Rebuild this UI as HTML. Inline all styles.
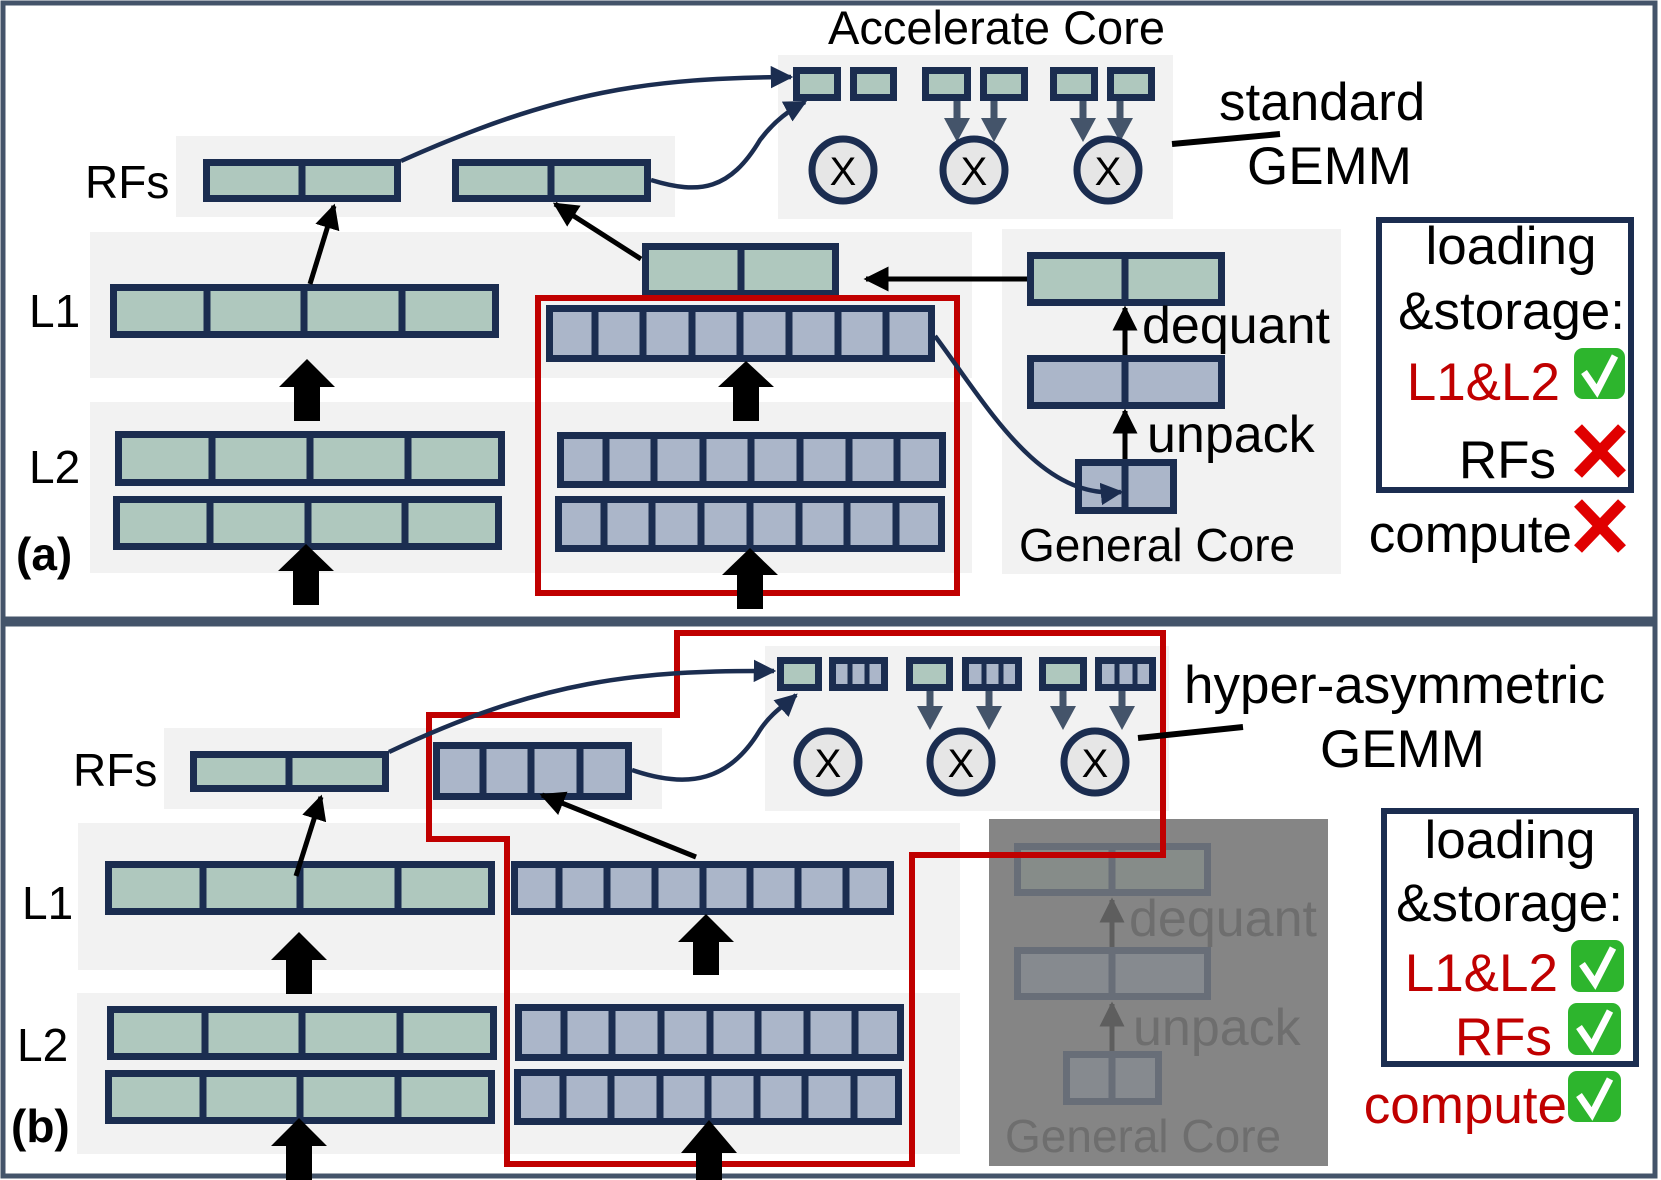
<!DOCTYPE html>
<html><head><meta charset="utf-8"><style>
html,body{margin:0;padding:0;background:#fff;}
svg{display:block;}
text{font-family:"Liberation Sans",sans-serif;}
</style></head><body>
<svg width="1661" height="1180" viewBox="0 0 1661 1180" xmlns="http://www.w3.org/2000/svg">
<defs>
<marker id="ah" viewBox="0 0 10 10" refX="9" refY="5" markerWidth="5" markerHeight="5" orient="auto" markerUnits="strokeWidth"><path d="M0,0 L10,5 L0,10 z" fill="#1b2d50"/></marker>
<marker id="bk" viewBox="0 0 10 10" refX="9" refY="5" markerWidth="5" markerHeight="5" orient="auto" markerUnits="strokeWidth"><path d="M0,0 L10,5 L0,10 z" fill="#000"/></marker>
<marker id="gy" viewBox="0 0 10 10" refX="9" refY="5" markerWidth="5" markerHeight="5" orient="auto" markerUnits="strokeWidth"><path d="M0,0 L10,5 L0,10 z" fill="#5e5e5e"/></marker>
</defs>
<g fill="none" stroke="#44546a" stroke-width="5">
<rect x="3" y="3" width="1652" height="616"/>
<rect x="3" y="624" width="1652" height="552"/>
</g>

<!-- ===== PANEL A ===== -->
<g fill="#f2f2f2">
<rect x="176" y="136" width="499" height="81"/>
<rect x="90" y="232" width="882" height="146"/>
<rect x="90" y="402" width="882" height="171"/>
<rect x="778" y="55" width="395" height="164"/>
<rect x="1002" y="229" width="339" height="345"/>
</g>
<g stroke="#1b2d50" stroke-width="7">
<g fill="#afc8be">
<rect x="206.5" y="162.5" width="191" height="36"/>
<rect x="455.5" y="162.5" width="192" height="36"/>
<rect x="113.5" y="287.5" width="382" height="47"/>
<rect x="118.5" y="434.5" width="383" height="48"/>
<rect x="116.5" y="499.5" width="382" height="47"/>
<rect x="645.5" y="246.5" width="190" height="47"/>
<rect x="1030.5" y="255.5" width="191" height="47"/>
</g>
<g fill="#abb6c9">
<rect x="549.5" y="308.5" width="382" height="50"/>
<rect x="560.5" y="435.5" width="382" height="49"/>
<rect x="558.5" y="499.5" width="383" height="49"/>
<rect x="1030.5" y="358.5" width="191" height="47"/>
<rect x="1078.5" y="462.5" width="95" height="48"/>
</g>
<path d="M302,162V199 M551,162V199 M207,287V335 M304,287V335 M402,287V335 M212,434V483 M310,434V483 M408,434V483 M210,499V547 M308,499V547 M405,499V547 M741,246V294 M1125,255V303 M1125,358V406 M1125,462V511
M595,308V359 M643,308V359 M692,308V359 M740,308V359 M789,308V359 M838,308V359 M886,308V359
M606,435V485 M654,435V485 M703,435V485 M751,435V485 M800,435V485 M849,435V485 M897,435V485
M604,499V549 M652,499V549 M701,499V549 M750,499V549 M799,499V549 M847,499V549 M896,499V549"/>
</g>
<g stroke="#1b2d50" stroke-width="7" fill="#afc8be">
<rect x="796.5" y="70.5" width="41" height="27"/>
<rect x="853.5" y="70.5" width="40" height="27"/>
<rect x="925.5" y="70.5" width="42" height="27"/>
<rect x="983.5" y="70.5" width="41" height="27"/>
<rect x="1053.5" y="70.5" width="41" height="27"/>
<rect x="1110.5" y="70.5" width="41" height="27"/>
</g>
<g stroke="#44546a" stroke-width="7">
<path d="M957,101V120 M994,101V120 M1083,101V120 M1120,101V120"/>
</g>
<g fill="#44546a">
<path d="M944,118h26l-13,24z M981,118h26l-13,24z M1070,118h26l-13,24z M1107,118h26l-13,24z"/>
</g>
<g stroke="#1b2d50" stroke-width="7" fill="#e6e6e6">
<circle cx="843" cy="170" r="31"/><circle cx="974" cy="170" r="31"/><circle cx="1108" cy="170" r="31"/>
</g>
<g font-size="40" text-anchor="middle"><text x="843" y="185">X</text><text x="974" y="185">X</text><text x="1108" y="185">X</text></g>
<rect x="538" y="298" width="419" height="295" fill="none" stroke="#c00000" stroke-width="6"/>
<g fill="none" stroke="#1b2d50" stroke-width="4.5">
<path d="M401,161 C560,90 650,78 791,77" marker-end="url(#ah)"/>
<path d="M651,180 C700,195 730,190 760,140 C775,120 790,110 805,102" marker-end="url(#ah)"/>
<path d="M935,336 C990,410 1040,500 1121,492" marker-end="url(#ah)"/>
</g>
<g stroke="#000" stroke-width="5" fill="none">
<path d="M310,284 L334,206" marker-end="url(#bk)"/>
<path d="M641,259 L555,204" marker-end="url(#bk)"/>
<path d="M1027,279 L866,279" marker-end="url(#bk)"/>
<path d="M1125,355 L1125,308" marker-end="url(#bk)"/>
<path d="M1125,459 L1125,411" marker-end="url(#bk)"/>
</g>
<path d="M1172,144 L1280,134" stroke="#000" stroke-width="6"/>
<g fill="#000">
<path d="M307,359 L335,387 L320,387 L320,421 L294,421 L294,387 L279,387 z"/>
<path d="M306,544 L334,571 L319,571 L319,605 L293,605 L293,571 L278,571 z"/>
<path d="M746,361 L774,387 L759,387 L759,421 L733,421 L733,387 L718,387 z"/>
<path d="M750,548 L778,575 L763,575 L763,609 L737,609 L737,575 L722,575 z"/>
</g>
<g font-size="46" fill="#000">
<text x="85" y="198">RFs</text>
<text x="29" y="327">L1</text>
<text x="29" y="483">L2</text>
<text x="16" y="570" font-weight="bold" font-size="46">(a)</text>
<text x="828" y="44" font-size="47">Accelerate Core</text>
<text x="1219" y="120" font-size="53">standard</text>
<text x="1247" y="184" font-size="53">GEMM</text>
<text x="1142" y="343" font-size="52">dequant</text>
<text x="1147" y="452" font-size="52">unpack</text>
<text x="1019" y="561" font-size="46">General Core</text>
</g>
<rect x="1379" y="220" width="252" height="270" fill="none" stroke="#1b2d50" stroke-width="6"/>
<g font-size="53" fill="#000">
<text x="1511" y="264" text-anchor="middle">loading</text>
<text x="1625" y="329" text-anchor="end">&amp;storage:</text>
<text x="1560" y="400" fill="#c00000" text-anchor="end">L1&amp;L2</text>
<text x="1556" y="478" text-anchor="end">RFs</text>
<text x="1572" y="552" text-anchor="end">compute</text>
</g>
<g>
<rect x="1574" y="348" width="51" height="51" rx="9" fill="#2db52d"/>
<path d="M1584,372 L1597,391 L1615,356" stroke="#fff" stroke-width="7" fill="none"/>
</g>
<g stroke="#e00000" stroke-width="11">
<path d="M1578,428 L1622,474 M1622,428 L1578,474"/>
<path d="M1578,503 L1622,549 M1622,503 L1578,549"/>
</g>

<!-- ===== PANEL B ===== -->
<g fill="#f2f2f2">
<rect x="164" y="728" width="498" height="81"/>
<rect x="78" y="823" width="882" height="147"/>
<rect x="77" y="993" width="883" height="161"/>
<rect x="765" y="646" width="404" height="165"/>
</g>
<g stroke="#1b2d50" stroke-width="7">
<g fill="#afc8be">
<rect x="193.5" y="754.5" width="192" height="34"/>
<rect x="108.5" y="864.5" width="383" height="47"/>
<rect x="110.5" y="1009.5" width="383" height="47"/>
<rect x="108.5" y="1073.5" width="383" height="47"/>
</g>
<g fill="#abb6c9">
<rect x="436.5" y="745.5" width="192" height="51"/>
<rect x="514.5" y="864.5" width="376" height="47"/>
<rect x="518.5" y="1007.5" width="382" height="50"/>
<rect x="517.5" y="1072.5" width="381" height="49"/>
</g>
<path d="M289,754V789 M483,745V797 M531,745V797 M580,745V797
M203,864V912 M300,864V912 M398,864V912
M205,1009V1057 M302,1009V1057 M400,1009V1057
M203,1073V1121 M300,1073V1121 M398,1073V1121
M559,864V912 M607,864V912 M655,864V912 M703,864V912 M750,864V912 M798,864V912 M846,864V912
M564,1007V1058 M612,1007V1058 M661,1007V1058 M710,1007V1058 M758,1007V1058 M807,1007V1058 M855,1007V1058
M563,1072V1122 M611,1072V1122 M660,1072V1122 M708,1072V1122 M757,1072V1122 M805,1072V1122 M854,1072V1122"/>
</g>
<g stroke="#1b2d50" stroke-width="7">
<g fill="#afc8be">
<rect x="780.5" y="660.5" width="38" height="27"/>
<rect x="909.5" y="660.5" width="40" height="27"/>
<rect x="1042.5" y="660.5" width="41" height="27"/>
</g>
<g fill="#abb6c9">
<rect x="832.5" y="660.5" width="52" height="27"/>
<rect x="965.5" y="660.5" width="53" height="27"/>
<rect x="1098.5" y="660.5" width="54" height="27"/>
</g>
<path d="M850,660V688 M867,660V688 M984,660V688 M1001,660V688 M1117,660V688 M1135,660V688" stroke-width="5"/>
</g>
<g stroke="#44546a" stroke-width="7">
<path d="M930,691V708 M989,691V708 M1063,691V708 M1122,691V708"/>
</g>
<g fill="#44546a">
<path d="M917,706h26l-13,24z M976,706h26l-13,24z M1050,706h26l-13,24z M1109,706h26l-13,24z"/>
</g>
<g stroke="#1b2d50" stroke-width="7" fill="#e6e6e6">
<circle cx="828" cy="762" r="31"/><circle cx="961" cy="762" r="31"/><circle cx="1095" cy="762" r="31"/>
</g>
<g font-size="40" text-anchor="middle"><text x="828" y="777">X</text><text x="961" y="777">X</text><text x="1095" y="777">X</text></g>
<rect x="989" y="819" width="339" height="347" fill="#858585"/>
<g stroke="#686e78" stroke-width="7">
<rect x="1017.5" y="846.5" width="190" height="46" fill="#868c89"/>
<rect x="1017.5" y="950.5" width="190" height="46" fill="#868a8f"/>
<rect x="1066.5" y="1054.5" width="92" height="47" fill="#868a8f"/>
<path d="M1112,846V893 M1112,950V997 M1112,1054V1102"/>
</g>
<g stroke="#5e5e5e" stroke-width="5" fill="none">
<path d="M1112,947 L1112,900" marker-end="url(#gy)"/>
<path d="M1112,1051 L1112,1004" marker-end="url(#gy)"/>
</g>
<g fill="#6e6e6e" font-size="52">
<text x="1129" y="936">dequant</text>
<text x="1133" y="1045">unpack</text>
<text x="1005" y="1152" font-size="46">General Core</text>
</g>
<path d="M677,633 L1163,633 L1163,855 L912,855 L912,1164 L507,1164 L507,839 L429,839 L429,715 L677,715 Z" fill="none" stroke="#c00000" stroke-width="6"/>
<g fill="none" stroke="#1b2d50" stroke-width="4.5">
<path d="M389,752 C540,680 640,670 774,671" marker-end="url(#ah)"/>
<path d="M632,770 C690,790 730,780 760,730 C772,712 785,705 796,695" marker-end="url(#ah)"/>
</g>
<g stroke="#000" stroke-width="5" fill="none">
<path d="M296,876 L321,797" marker-end="url(#bk)"/>
<path d="M696,857 L542,795" marker-end="url(#bk)"/>
</g>
<path d="M1138,738 L1243,727" stroke="#000" stroke-width="6"/>
<g fill="#000">
<path d="M299,932 L327,960 L312,960 L312,994 L286,994 L286,960 L271,960 z"/>
<path d="M706,914 L734,942 L719,942 L719,975 L693,975 L693,942 L678,942 z"/>
<path d="M299,1118 L327,1146 L312,1146 L312,1180 L286,1180 L286,1146 L271,1146 z"/>
<path d="M709,1120 L737,1153 L722,1153 L722,1180 L696,1180 L696,1153 L681,1153 z"/>
</g>
<g font-size="46" fill="#000">
<text x="73" y="786">RFs</text>
<text x="22" y="919">L1</text>
<text x="17" y="1061">L2</text>
<text x="11" y="1142" font-weight="bold" font-size="46">(b)</text>
<text x="1184" y="703" font-size="53">hyper-asymmetric</text>
<text x="1320" y="767" font-size="53">GEMM</text>
</g>
<rect x="1384" y="811" width="252" height="253" fill="none" stroke="#1b2d50" stroke-width="6"/>
<g font-size="53" fill="#000">
<text x="1510" y="858" text-anchor="middle">loading</text>
<text x="1623" y="921" text-anchor="end">&amp;storage:</text>
<text x="1558" y="991" fill="#c00000" text-anchor="end">L1&amp;L2</text>
<text x="1552" y="1055" fill="#c00000" text-anchor="end">RFs</text>
<text x="1567" y="1123" fill="#c00000" text-anchor="end">compute</text>
</g>
<g fill="#2db52d">
<rect x="1571" y="940" width="53" height="52" rx="9"/>
<rect x="1568" y="1003" width="53" height="52" rx="9"/>
<rect x="1568" y="1071" width="53" height="51" rx="9"/>
</g>
<g stroke="#fff" stroke-width="7" fill="none">
<path d="M1582,964 L1595,983 L1613,948"/>
<path d="M1579,1027 L1592,1046 L1610,1011"/>
<path d="M1579,1095 L1592,1114 L1610,1079"/>
</g>
</svg>
</body></html>
